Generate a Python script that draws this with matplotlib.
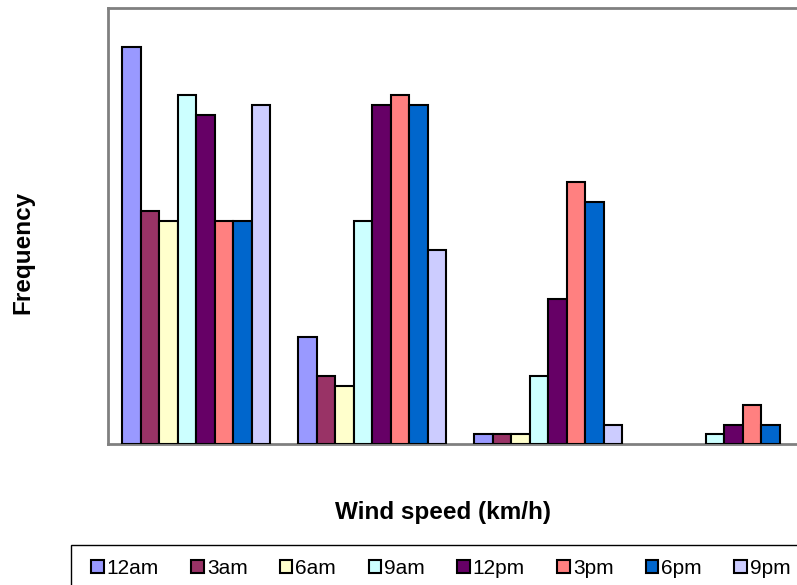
import matplotlib.pyplot as plt
from matplotlib.patches import Rectangle
import numpy as np

plt.rcParams['font.family'] = ['Liberation Sans', 'DejaVu Sans']

speed_bins = ['0-5', '5-10', '10-15', '15-20']
times = ['12am', '3am', '6am', '9am', '12pm', '3pm', '6pm', '9pm']
colors = ['#9999FF', '#993366', '#FFFFCC', '#CCFFFF',
          '#660066', '#FF8080', '#0066CC', '#CCCCFF']

freq_12am = [41, 11, 1, 0]
freq_3am = [24, 7, 1, 0]
freq_6am = [23, 6, 1, 0]
freq_9am = [36, 23, 7, 1]
freq_12pm = [34, 35, 15, 2]
freq_3pm = [23, 36, 27, 4]
freq_6pm = [23, 35, 25, 2]
freq_9pm = [35, 20, 2, 0]
series = [freq_12am, freq_3am, freq_6am, freq_9am,
          freq_12pm, freq_3pm, freq_6pm, freq_9pm]

fig = plt.figure(figsize=(7.97, 5.85), dpi=100)
# plot area runs past the right edge of the picture, like the original
ax = fig.add_axes([108 / 797, 1 - 444 / 585, 704 / 797, 436 / 585])

x = np.arange(len(speed_bins))
w = 18.5 / 176
for i, (vals, c, lab) in enumerate(zip(series, colors, times)):
    bars = ax.bar(x + (i - 3.5) * w, vals, width=w, color=c,
                  edgecolor='black', linewidth=1.5, label=lab, zorder=3)
    for b, v in zip(bars, vals):
        if v == 0:
            b.set_visible(False)

ax.set_xlim(-0.5, 3.5)
ax.set_ylim(0, 45)
ax.set_xticks([])
ax.set_yticks([])
for s in ax.spines.values():
    s.set_color('#808080')
    s.set_linewidth(2)

fig.text(23 / 797, 1 - 252 / 585, 'Frequency', rotation=90, fontsize=17.5,
         fontweight='bold', ha='center', va='center')
fig.text(443 / 797, 1 - 512 / 585, 'Wind speed (km/h)', fontsize=17.5,
         fontweight='bold', ha='center', va='center')

# legend box, also cut by the picture edge
fig.patches.append(Rectangle((71 / 797, -0.05), 0.95, 1 - 545 / 585 + 0.05,
                             transform=fig.transFigure, fill=False,
                             edgecolor='black', linewidth=1))
handles, labels = ax.get_legend_handles_labels()
leg = fig.legend(handles, labels, loc='center left',
                 bbox_to_anchor=(91 / 797, 1 - 568 / 585), ncol=8,
                 fontsize=15, frameon=False,
                 handlelength=0.6, handleheight=0.6, handletextpad=0.15,
                 columnspacing=1.55, borderpad=0, borderaxespad=0)

fig.savefig('out.png', dpi=100)
